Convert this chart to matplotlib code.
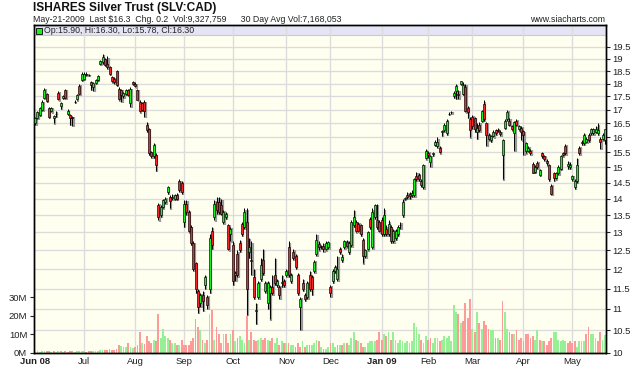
import matplotlib
matplotlib.use('Agg')
import matplotlib.pyplot as plt
import matplotlib.transforms as mtransforms
from matplotlib.patches import Rectangle
import numpy as np
import pandas as pd

plt.rcParams['font.family'] = ['Liberation Sans', 'DejaVu Sans']

# US market holidays inside the range
holidays = ['2008-07-04', '2008-09-01', '2008-11-27', '2008-12-25',
            '2009-01-01', '2009-01-19', '2009-02-16', '2009-04-10']
dates = pd.bdate_range('2008-06-02', '2009-05-21', freq='C', holidays=holidays)

# daily prices (one line per month)
opens = [
    16.50, 16.70, 16.82, 17.00, 17.45, 17.58, 17.05, 16.95, 16.70, 16.85, 17.65, 17.15, 17.45, 17.75, 16.85, 16.80, 16.75, 17.28, 17.40, 17.90, 18.15,
    18.20, 18.38, 18.35, 18.05, 17.85, 18.02, 18.15, 18.78, 18.85, 19.00, 18.80, 18.65, 18.25, 18.20, 18.50, 17.80, 17.75, 17.50, 17.60, 17.75, 17.25, 18.05,
    18.00, 17.75, 17.30, 17.25, 17.30, 16.45, 16.30, 15.50, 15.35, 15.40, 13.80, 13.50, 13.75, 13.90, 14.20, 14.05, 14.03, 14.00, 14.10, 14.55, 14.50,
    13.30, 13.85, 13.60, 13.15, 12.70, 12.15, 11.45, 11.15, 11.35, 11.60, 11.30, 11.50, 13.05, 13.45, 13.90, 13.90, 13.80, 13.30, 13.45, 13.20, 12.95,
    12.65, 11.85, 12.40, 12.70, 13.25, 13.15, 13.30, 12.45, 12.25, 11.80, 10.95, 11.30, 11.75, 12.25, 11.45, 11.15, 11.40, 11.55, 11.85, 11.60, 11.55, 11.65, 11.70,
    11.85, 12.60, 11.70, 12.45, 12.35, 11.85, 11.05, 11.65, 11.35, 11.30, 11.85, 11.80, 11.95, 12.40, 12.68, 12.60, 12.62, 12.55, 12.60,
    11.55, 11.70, 11.95, 11.75, 12.55, 12.25, 12.60, 12.72, 12.45, 12.65, 13.20, 13.30, 13.25, 13.20, 12.80, 12.35, 12.55, 13.40, 12.60, 13.45, 13.35, 13.30,
    13.35, 12.95, 13.10, 12.95, 13.15, 12.75, 12.85, 12.95, 13.20, 13.50, 14.00, 14.12, 14.15, 14.10, 14.10, 14.70, 14.75, 14.55, 14.35, 15.30,
    15.45, 15.15, 15.42, 15.75, 15.70, 15.65, 16.20, 16.25, 16.15, 16.85, 16.90, 17.50, 17.70, 17.60, 18.00, 17.60, 17.85, 17.05, 16.65,
    16.75, 16.70, 16.20, 16.45, 16.60, 17.20, 16.50, 16.10, 15.90, 16.05, 16.25, 16.25, 16.20, 15.40, 16.35, 16.65, 16.60, 16.40, 16.15, 16.60, 16.30, 16.35,
    16.22, 15.55, 15.55, 15.55, 15.10, 14.85, 15.12, 14.75, 15.45, 15.35, 15.20, 15.05, 14.40, 14.80, 14.65, 14.80, 14.95, 15.45, 15.72, 15.02, 15.00,
    14.60, 14.35, 14.55, 15.65, 15.85, 15.80, 15.85, 16.10, 16.15, 16.15, 16.20, 16.15, 15.95, 15.95, 15.90,
]
highs = [
    16.75, 16.95, 17.10, 17.35, 17.82, 17.65, 17.12, 17.10, 16.82, 16.95, 17.70, 17.30, 17.55, 17.80, 17.02, 16.85, 16.78, 17.35, 17.60, 18.00, 18.45,
    18.45, 18.45, 18.40, 18.12, 18.05, 18.18, 18.35, 18.95, 19.20, 19.05, 19.10, 18.70, 18.30, 18.25, 18.55, 17.85, 17.80, 17.68, 17.80, 17.80, 17.85, 18.10,
    18.05, 17.80, 17.35, 17.30, 17.35, 16.55, 16.35, 15.55, 15.80, 15.45, 13.88, 13.80, 14.00, 14.05, 14.40, 14.10, 14.15, 14.15, 14.18, 14.60, 14.55,
    13.95, 13.95, 13.65, 13.20, 12.75, 12.20, 11.50, 11.40, 11.45, 11.85, 11.35, 12.95, 13.15, 13.95, 14.05, 14.05, 14.00, 13.65, 13.60, 13.25, 13.15,
    12.75, 11.95, 12.50, 12.80, 13.30, 13.70, 13.70, 12.85, 12.75, 12.00, 11.15, 11.70, 12.30, 12.55, 11.70, 11.70, 11.60, 11.85, 12.30, 11.75, 11.60, 11.85, 11.75,
    12.00, 12.75, 11.90, 12.55, 12.40, 11.90, 11.30, 11.75, 11.40, 11.70, 11.95, 11.85, 12.25, 12.95, 12.75, 12.65, 12.70, 12.75, 12.75,
    11.60, 12.00, 12.10, 12.35, 12.60, 12.40, 12.80, 12.78, 12.75, 13.35, 13.65, 13.35, 13.30, 13.25, 12.85, 12.55, 13.05, 13.45, 13.70, 13.85, 13.85, 13.35,
    13.45, 13.70, 13.20, 13.35, 13.20, 13.10, 13.10, 13.20, 13.30, 14.00, 14.05, 14.20, 14.20, 14.25, 14.65, 14.85, 14.80, 14.60, 15.10, 15.60,
    15.55, 15.40, 15.50, 15.90, 16.00, 15.70, 16.28, 16.50, 16.65, 16.90, 16.95, 17.70, 18.00, 17.75, 18.12, 18.05, 18.00, 17.15, 16.75,
    16.80, 16.75, 16.50, 16.55, 17.00, 17.35, 16.55, 16.15, 16.10, 16.25, 16.30, 16.35, 16.25, 15.95, 16.65, 17.00, 16.70, 16.45, 16.60, 16.65, 16.45, 16.40,
    16.25, 15.85, 15.70, 15.60, 15.15, 15.05, 15.20, 14.95, 15.50, 15.40, 15.25, 15.10, 14.45, 14.85, 14.85, 15.05, 15.40, 15.50, 15.78, 15.20, 15.15,
    14.75, 14.60, 15.30, 15.70, 15.90, 16.15, 16.00, 16.15, 16.35, 16.35, 16.40, 16.50, 16.00, 16.15, 16.30,
]
lows = [
    16.45, 16.65, 16.78, 16.95, 17.40, 17.28, 16.70, 16.90, 16.50, 16.75, 17.35, 17.02, 17.40, 17.42, 16.80, 16.45, 16.40, 17.25, 17.35, 17.55, 18.10,
    18.15, 18.30, 18.30, 17.75, 17.70, 17.98, 18.10, 18.75, 18.80, 18.72, 18.60, 18.35, 18.05, 18.00, 17.92, 17.35, 17.30, 17.45, 17.55, 17.50, 17.10, 17.95,
    17.85, 17.35, 16.90, 16.95, 16.75, 16.20, 15.40, 15.30, 15.30, 14.88, 13.35, 13.45, 13.70, 13.85, 14.15, 13.70, 13.95, 13.95, 13.95, 14.20, 14.15,
    13.15, 13.50, 13.00, 12.65, 11.95, 11.40, 10.90, 11.05, 10.95, 11.50, 11.00, 11.40, 12.55, 13.35, 13.55, 13.55, 13.50, 13.25, 13.40, 12.50, 12.75,
    11.60, 11.70, 11.80, 12.45, 12.90, 13.10, 10.85, 12.30, 11.85, 11.25, 10.65, 11.25, 11.70, 11.85, 11.40, 11.00, 10.75, 11.35, 11.60, 11.55, 11.25, 11.55, 11.55,
    11.80, 11.80, 11.65, 12.25, 12.00, 11.35, 10.50, 11.45, 11.20, 11.25, 11.45, 11.35, 11.90, 12.35, 12.50, 12.55, 12.45, 12.50, 12.55,
    11.30, 11.65, 11.90, 11.70, 12.40, 12.20, 12.55, 12.58, 12.40, 12.60, 13.15, 13.00, 13.00, 12.90, 12.15, 12.30, 12.50, 13.10, 12.55, 13.40, 13.10, 13.00,
    12.90, 12.90, 12.90, 12.90, 12.70, 12.70, 12.80, 12.90, 13.10, 13.45, 13.95, 14.00, 14.00, 14.05, 14.05, 14.55, 14.55, 14.35, 14.30, 15.25,
    15.30, 15.00, 15.38, 15.70, 15.65, 15.45, 16.05, 16.20, 16.10, 16.80, 16.85, 17.45, 17.40, 17.40, 17.95, 17.55, 16.90, 16.70, 16.00,
    16.30, 16.20, 15.95, 16.20, 16.55, 16.60, 15.70, 15.90, 15.85, 16.00, 16.10, 16.20, 16.05, 14.60, 16.30, 16.60, 16.40, 16.25, 15.55, 16.40, 16.25, 15.90,
    15.40, 15.45, 15.50, 15.40, 14.80, 14.80, 14.95, 14.70, 15.30, 15.20, 15.05, 14.55, 14.12, 14.55, 14.60, 14.75, 14.90, 15.35, 15.40, 14.95, 14.95,
    14.55, 14.30, 14.50, 15.40, 15.75, 15.75, 15.80, 15.85, 16.10, 16.10, 16.15, 16.10, 15.60, 15.90, 15.78,
]
closes = [
    16.70, 16.90, 17.05, 17.30, 17.75, 17.32, 16.75, 17.05, 16.78, 16.86, 17.40, 17.25, 17.50, 17.45, 16.95, 16.70, 16.68, 17.30, 17.55, 17.60, 18.40,
    18.40, 18.36, 18.34, 17.95, 18.02, 18.15, 18.30, 18.90, 19.08, 18.75, 18.65, 18.40, 18.10, 18.05, 17.95, 17.40, 17.55, 17.62, 17.75, 17.55, 17.78, 17.98,
    17.90, 17.38, 16.95, 17.00, 16.95, 16.25, 15.45, 15.38, 15.75, 15.05, 13.45, 13.75, 13.95, 14.00, 14.35, 13.92, 14.05, 14.10, 14.00, 14.25, 14.20,
    13.85, 13.60, 13.05, 12.70, 12.00, 11.50, 11.05, 11.35, 11.20, 11.80, 11.10, 12.85, 12.65, 13.85, 13.65, 13.60, 13.55, 13.60, 13.55, 12.55, 13.10,
    11.70, 11.90, 11.85, 12.50, 12.95, 13.60, 11.50, 12.60, 12.22, 11.30, 10.97, 11.65, 12.10, 11.90, 11.65, 11.65, 11.55, 11.40, 11.65, 11.70, 11.35, 11.66, 11.60,
    11.95, 11.85, 11.85, 12.30, 12.05, 11.40, 11.25, 11.50, 11.25, 11.65, 11.50, 11.50, 12.20, 12.78, 12.58, 12.60, 12.55, 12.70, 12.72,
    11.40, 11.95, 12.05, 12.00, 12.45, 12.32, 12.75, 12.62, 12.70, 13.30, 13.45, 13.05, 13.05, 12.95, 12.35, 12.50, 13.00, 13.15, 13.60, 13.80, 13.15, 13.05,
    12.95, 13.50, 12.95, 13.25, 12.75, 13.05, 13.05, 13.15, 13.22, 13.90, 14.00, 14.05, 14.07, 14.18, 14.60, 14.60, 14.60, 14.42, 15.05, 15.55,
    15.40, 15.35, 15.46, 15.85, 15.85, 15.50, 16.22, 16.45, 16.60, 16.86, 16.92, 17.65, 17.90, 17.55, 18.10, 17.95, 16.95, 16.90, 16.25,
    16.40, 16.30, 16.35, 16.25, 16.95, 16.65, 16.10, 15.95, 16.05, 16.20, 16.15, 16.24, 16.12, 15.90, 16.60, 16.90, 16.45, 16.30, 16.55, 16.45, 16.40, 16.20,
    16.10, 15.80, 15.65, 15.45, 14.82, 15.00, 15.00, 14.90, 15.35, 15.25, 15.12, 14.60, 14.15, 14.65, 14.80, 15.00, 15.35, 15.40, 15.45, 15.10, 15.08,
    14.70, 14.55, 15.05, 15.45, 15.80, 16.10, 15.95, 15.90, 16.30, 16.30, 16.30, 16.28, 15.85, 16.10, 16.30,
]
# daily volume, millions of shares
volumes = [
    0.5, 0.6, 0.4, 0.7, 0.8, 0.6, 0.9, 0.5, 0.6, 0.4, 0.7, 0.8, 0.5, 0.6, 0.4, 0.6, 0.9, 0.5, 0.7, 0.6, 0.8,
    0.6, 0.5, 0.7, 0.9, 0.6, 0.8, 1.0, 1.4, 1.2, 1.6, 1.3, 1.8, 1.1, 1.5, 2.0, 4.2, 3.5, 3.0, 2.8, 5.0, 3.2, 2.5,
    3, 4, 11, 5, 4.5, 9, 6, 5, 7, 6, 21, 8, 13, 9, 8, 7, 5, 5, 4, 4, 7,
    4, 4, 4, 6, 8, 18, 14, 12, 7, 5, 7, 21, 23, 7, 14, 10, 5, 10, 10, 5, 10,
    12, 6, 8, 9, 7, 5, 20, 7, 11, 7, 6, 7, 8, 7, 8, 7, 6, 8, 5, 8, 4, 6, 5,
    5, 5, 4, 4, 3, 5, 3, 6, 3, 4, 4, 4, 5, 7, 6, 3, 2, 2, 3,
    5, 5, 3, 4, 4, 4, 5, 5, 4, 8, 11, 7, 6, 5, 3, 3, 5, 6, 6, 6, 7, 11,
    7, 10, 9, 11, 7, 11, 7, 5, 7, 6, 5, 6, 5, 6, 16, 14, 10, 7, 5, 9,
    7, 8, 5, 8, 8, 6, 7, 9, 8, 9, 6, 26, 22, 21, 16, 17, 27, 19, 29,
    13, 11, 22, 16, 13, 17, 15, 13, 12, 12, 8, 8, 7, 28, 22, 13, 11, 10, 10, 12, 7, 8,
    6, 10, 10, 8, 9, 7, 12, 7, 6, 6, 4, 6, 8, 11, 11, 7, 6, 7, 6, 5, 6,
    5, 6, 3, 6, 6, 6, 10, 14, 10, 10, 8, 6, 11, 7, 9.3,
]

price_ticks = [10, 10.5, 11, 11.5, 12, 12.5, 13, 13.5, 14, 14.5, 15, 15.5,
               16, 16.5, 17, 17.5, 18, 18.5, 19, 19.5]
vol_ticks = [0, 10, 20, 30]
vol_labels = ['0M', '10M', '20M', '30M']

x = np.arange(len(dates))
o = np.array(opens); h = np.array(highs); l = np.array(lows); c = np.array(closes)
up = c >= o
prev = np.concatenate([[o[0]], c[:-1]])
vol_up = c >= prev

W, H = 640, 366
fig = plt.figure(figsize=(W / 100, H / 100), dpi=100)
L, R, T, B = 33.5, 606, 25, 352.5
ax_vol = fig.add_axes([L / W, 1 - B / H, (R - L) / W, (B - T) / H])
ax_vol.set_facecolor('#fffff0')
ax = ax_vol.twinx()
ax.set_yscale('log')
ax.set_ylim(10, 20.46)
ax_vol.set_ylim(0, 178)
ax_vol.set_xlim(-0.7, len(x) - 0.5)

# band + grid lines under everything
blend = mtransforms.blended_transform_factory(ax_vol.transAxes, ax.transData)
ax_vol.add_patch(Rectangle((0, 20.0), 1, 5, transform=blend, facecolor='#e4e4f4',
                           edgecolor='none', zorder=0.3))
for p in price_ticks:
    ax_vol.plot([0, 1], [p, p], transform=blend, color='#dcdcdc', lw=1, zorder=0.6)
ax_vol.plot([0, 1], [20.0, 20.0], transform=blend, color='#c8c8d8', lw=0.8, zorder=0.6)

month_idx = [i for i in range(len(dates)) if i == 0 or dates[i].month != dates[i - 1].month]
month_lbl = [dates[i].strftime('%b %y') if dates[i].month in (1, 6) else dates[i].strftime('%b')
             for i in month_idx]
for i in month_idx[1:]:
    ax_vol.axvline(i, color='#dcdcdc', lw=1, zorder=0.6)

# volume
vcol = np.where(vol_up, '#96f096', '#ff9a9a')
ax_vol.bar(x, volumes, width=0.78, color=vcol, edgecolor='none', zorder=1)

# candles
shadow = mtransforms.offset_copy(ax.transData, fig=fig, x=1.4, y=-1.2, units='dots')
ax.vlines(x, l, h, color='#999999', lw=1.6, transform=shadow, zorder=2)
ax.vlines(x, l, h, color='black', lw=0.7, zorder=3)
body_lo = np.minimum(o, c)
body_h = np.maximum(np.abs(c - o), 0.004)
ccol = np.where(up, '#1cf01c', '#f02828')
ax.bar(x, body_h, bottom=body_lo, width=0.86, color=ccol, edgecolor='black', lw=0.45, zorder=4)

# axes styling
ax.yaxis.set_major_locator(matplotlib.ticker.FixedLocator(price_ticks))
ax.yaxis.set_minor_locator(matplotlib.ticker.NullLocator())
ax.set_yticklabels(['%g' % p for p in price_ticks])
ax.tick_params(axis='y', which='major', length=3, width=0.8, pad=1.5, labelsize=6.8,
               colors='#222222')
ax_vol.set_yticks(vol_ticks)
ax_vol.set_yticklabels(vol_labels)
ax_vol.tick_params(axis='y', length=3, width=0.8, pad=1.5, labelsize=6.8, colors='#222222')
ax_vol.set_xticks(month_idx)
ax_vol.set_xticklabels(month_lbl)
ax_vol.tick_params(axis='x', length=0, pad=3, labelsize=6.8, colors='#222222')
for t, lab in zip(ax_vol.get_xticklabels(), month_lbl):
    if ' ' in lab:
        t.set_fontweight('bold')
for a in (ax, ax_vol):
    for s in a.spines.values():
        s.set_color('black')
        s.set_linewidth(1)

# header texts
fig.text(33 / W, 1 - 2 / H, 'ISHARES Silver Trust (SLV:CAD)', va='top', ha='left',
         fontsize=8.6, fontweight='bold', color='#111111',
         family=['Liberation Sans Narrow', 'Liberation Sans'])
fig.text(33 / W, 1 - 14.5 / H,
         'May-21-2009  Last $16.3  Chg. 0.2  Vol:9,327,759      30 Day Avg Vol:7,168,053',
         va='top', ha='left', fontsize=6.3, color='#222222')
fig.text(605 / W, 1 - 14.5 / H, 'www.siacharts.com', va='top', ha='right',
         fontsize=6.3, color='#222222')
fig.patches.append(Rectangle((36 / W, 1 - 34 / H), 6 / W, 6 / H, transform=fig.transFigure,
                             facecolor='#1cf01c', edgecolor='black', lw=0.6))
fig.text(44 / W, 1 - 30.5 / H, 'Op:15.90, Hi:16.30, Lo:15.78, Cl:16.30', va='center',
         ha='left', fontsize=6.3, color='#222222')

fig.savefig('out.png', dpi=100)
